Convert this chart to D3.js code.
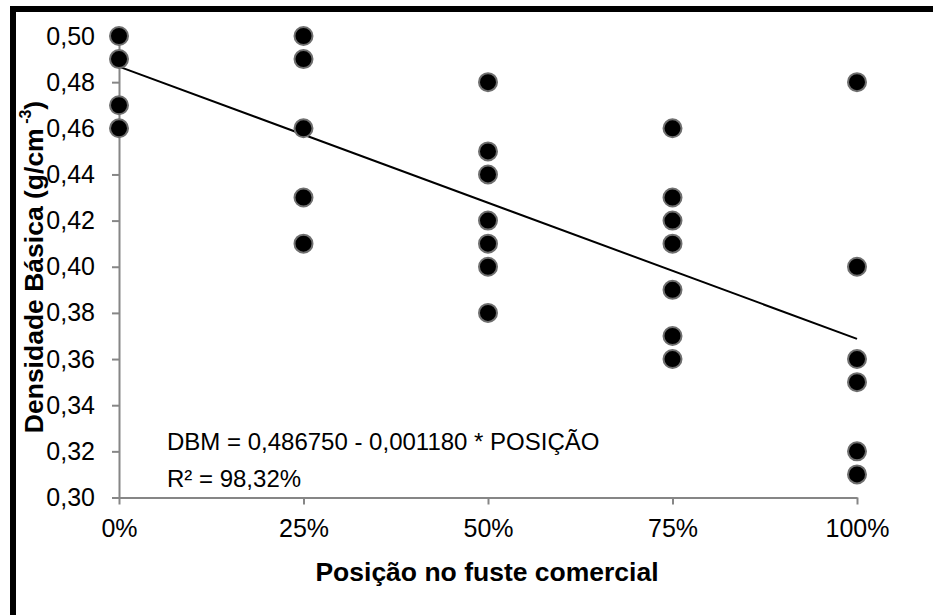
<!DOCTYPE html>
<html>
<head>
<meta charset="utf-8">
<script src="https://cdn.jsdelivr.net/npm/d3@7"></script>
<style>
  html, body { margin: 0; padding: 0; background: #fff; }
  svg { display: block; font-family: "Liberation Sans", Arial, sans-serif; }
</style>
</head>
<body>
<svg id="chart" width="933" height="615"></svg>
<script>
// Wood basic density by position along the commercial bole
const positions = [0, 25, 50, 75, 100];
const density0 = [0.50, 0.49, 0.47, 0.46];
const density25 = [0.50, 0.49, 0.46, 0.43, 0.41];
const density50 = [0.48, 0.45, 0.44, 0.42, 0.41, 0.40, 0.38];
const density75 = [0.46, 0.43, 0.42, 0.41, 0.39, 0.37, 0.36];
const density100 = [0.48, 0.40, 0.36, 0.35, 0.32, 0.31];
const yTicks = [0.30, 0.32, 0.34, 0.36, 0.38, 0.40, 0.42, 0.44, 0.46, 0.48, 0.50];
// Fitted regression: DBM = a + b * POSIÇÃO
const intercept = 0.486750;
const slope = -0.001180;

const groups = [density0, density25, density50, density75, density100];
const points = [];
groups.forEach((vals, i) => vals.forEach(v => points.push({ x: positions[i], y: v })));

const svg = d3.select("#chart");

// Chart frame (thick black border, open on right and bottom edges)
svg.append("rect")
  .attr("x", 13).attr("y", 9)
  .attr("width", 940).attr("height", 640)
  .attr("fill", "none").attr("stroke", "#000").attr("stroke-width", 6);

const x = d3.scaleLinear().domain([0, 100]).range([119, 857]);
const y = d3.scaleLinear().domain([0.30, 0.50]).range([497.5, 36]);

const fmtY = v => d3.format(".2f")(v).replace(".", ",");

// Y axis
const yAxis = svg.append("g")
  .attr("transform", `translate(${x(0)},0)`)
  .call(d3.axisLeft(y).tickValues(yTicks).tickFormat(fmtY).tickSize(7).tickSizeOuter(0).tickPadding(17));

// X axis
const xAxis = svg.append("g")
  .attr("transform", `translate(0,${y(0.30)})`)
  .call(d3.axisBottom(x).tickValues(positions).tickFormat(d => d + "%").tickSize(7).tickSizeOuter(0).tickPadding(15));

[yAxis, xAxis].forEach(g => {
  g.selectAll(".domain").attr("stroke", "#868686").attr("stroke-width", 2);
  g.selectAll(".tick line").attr("stroke", "#868686").attr("stroke-width", 2);
  g.selectAll(".tick text")
    .attr("fill", "#000")
    .style("font-family", '"Liberation Sans", Arial, sans-serif')
    .style("font-size", "25px");
});

// Regression line
svg.append("line")
  .attr("x1", x(0)).attr("y1", y(intercept + slope * 0))
  .attr("x2", x(100)).attr("y2", y(intercept + slope * 100))
  .attr("stroke", "#000").attr("stroke-width", 2);

// Observations
svg.append("g").selectAll("circle")
  .data(points)
  .join("circle")
  .attr("cx", d => x(d.x))
  .attr("cy", d => y(d.y))
  .attr("r", 9)
  .attr("fill", "#000")
  .attr("stroke", "#6f6f6f")
  .attr("stroke-width", 2);

// Equation annotation
const eq = svg.append("text")
  .attr("x", 167).attr("y", 450)
  .style("font-size", "24px").attr("fill", "#000");
eq.append("tspan").attr("x", 167).attr("y", 450).text("DBM = 0,486750 - 0,001180 * POSIÇÃO");
eq.append("tspan").attr("x", 167).attr("y", 487).text("R² = 98,32%");

// Axis titles
svg.append("text")
  .attr("x", 487).attr("y", 581)
  .attr("text-anchor", "middle")
  .style("font-size", "26.5px").style("font-weight", "bold")
  .text("Posição no fuste comercial");

const yt = svg.append("text")
  .attr("transform", "translate(43,267) rotate(-90)")
  .attr("text-anchor", "middle")
  .style("font-size", "26.5px").style("font-weight", "bold");
yt.append("tspan").text("Densidade Básica (g/cm");
yt.append("tspan").attr("dy", -12).style("font-size", "16px").text(" -3");
yt.append("tspan").attr("dy", 12).text(")");
</script>
</body>
</html>
